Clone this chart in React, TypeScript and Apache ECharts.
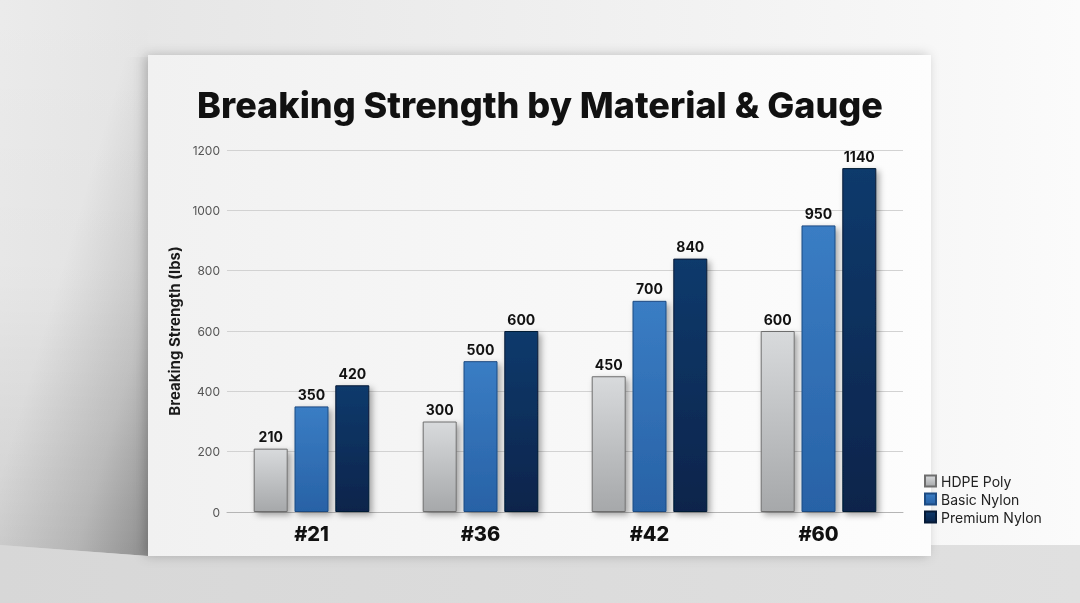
import { useEffect, useRef } from "react";
import * as echarts from "echarts";

const gauges = ["#21", "#36", "#42", "#60"];
const seriesNames = ["HDPE Poly", "Basic Nylon", "Premium Nylon"];
const hdpe = [210, 300, 450, 600];
const basicNylon = [350, 500, 700, 950];
const premiumNylon = [420, 600, 840, 1140];

const FONT = "Inter, 'Open Sans', sans-serif";

const grad = (top: string, bottom: string) =>
  new echarts.graphic.LinearGradient(0, 0, 0, 1, [
    { offset: 0, color: top },
    { offset: 1, color: bottom },
  ]);

export default function App() {
  const ref = useRef<HTMLDivElement>(null);

  useEffect(() => {
    const el = ref.current;
    if (!el) return;
    const chart = echarts.init(el, undefined, { renderer: "svg" });

    const styles = [
      { fill: grad("#d8dadc", "#a6a8aa"), border: "#6e6e6e" },
      { fill: grad("#3a7dc4", "#2862a6"), border: "#1d4b82" },
      { fill: grad("#0f3a6c", "#08244b"), border: "#061a36" },
    ];
    const values = [hdpe, basicNylon, premiumNylon];

    chart.setOption({
      animation: false,
      graphic: [
        // wall
        {
          type: "rect",
          z: -100,
          silent: true,
          shape: { x: 0, y: 0, width: 1080, height: 603 },
          style: {
            fill: new echarts.graphic.LinearGradient(0, 0, 1, 0, [
              { offset: 0, color: "#ebebeb" },
              { offset: 0.13, color: "#e6e6e6" },
              { offset: 0.86, color: "#f7f7f7" },
              { offset: 1, color: "#fbfbfb" },
            ]),
          },
        },
        // left wall gets darker towards the floor
        {
          type: "rect",
          z: -99,
          silent: true,
          shape: { x: 0, y: 0, width: 148, height: 556 },
          style: {
            fill: new echarts.graphic.LinearGradient(0, 0, 0, 1, [
              { offset: 0, color: "rgba(0,0,0,0)" },
              { offset: 0.5, color: "rgba(0,0,0,0.02)" },
              { offset: 1, color: "rgba(0,0,0,0.12)" },
            ]),
          },
        },
        // shadow of the card on the wall
        {
          type: "polygon",
          z: -99,
          silent: true,
          shape: {
            points: [
              [0, 57],
              [148, 57],
              [148, 556],
              [0, 545],
            ],
          },
          style: {
            fill: new echarts.graphic.LinearGradient(0, 0, 1, 1, [
              { offset: 0, color: "rgba(0,0,0,0)" },
              { offset: 0.42, color: "rgba(0,0,0,0)" },
              { offset: 0.75, color: "rgba(0,0,0,0.12)" },
              { offset: 1, color: "rgba(0,0,0,0.3)" },
            ]),
          },
        },
        // floor
        {
          type: "polygon",
          z: -98,
          silent: true,
          shape: {
            points: [
              [0, 545],
              [148, 556],
              [931, 556],
              [931, 545],
              [1080, 545],
              [1080, 603],
              [0, 603],
            ],
          },
          style: {
            fill: new echarts.graphic.LinearGradient(0, 0, 1, 0, [
              { offset: 0, color: "#d7d7d7" },
              { offset: 1, color: "#e0e0e0" },
            ]),
          },
        },
        // card
        {
          type: "rect",
          z: -97,
          silent: true,
          shape: { x: 148, y: 55, width: 783, height: 501 },
          style: {
            fill: new echarts.graphic.LinearGradient(0, 0, 1, 0, [
              { offset: 0, color: "#f1f1f1" },
              { offset: 1, color: "#fdfdfd" },
            ]),
            shadowBlur: 12,
            shadowOffsetX: -3,
            shadowColor: "rgba(0,0,0,0.22)",
          },
        },
      ],
      title: {
        text: "Breaking Strength by Material & Gauge",
        left: "center",
        top: 82,
        textStyle: {
          fontFamily: FONT,
          fontWeight: 800,
          fontSize: 36,
          color: "#111",
        },
      },
      legend: {
        orient: "vertical",
        left: 919,
        top: 469,
        itemWidth: 11,
        itemHeight: 11,
        itemGap: 4,
        icon: "rect",
        data: seriesNames,
        textStyle: { fontFamily: FONT, fontSize: 14, color: "#222" },
      },
      grid: { left: 227, right: 177, top: 150, bottom: 91 },
      xAxis: {
        type: "category",
        data: gauges,
        axisTick: { show: false },
        axisLine: { lineStyle: { color: "#b5b5b5" } },
        axisLabel: {
          margin: 12,
          fontFamily: FONT,
          fontWeight: 800,
          fontSize: 20,
          color: "#111",
        },
      },
      yAxis: {
        type: "value",
        min: 0,
        max: 1200,
        interval: 200,
        name: "Breaking Strength (lbs)",
        nameLocation: "middle",
        nameGap: 31,
        nameTextStyle: { fontFamily: FONT, fontWeight: 700, fontSize: 15, color: "#1a1a1a" },
        axisLabel: {
          fontFamily: FONT,
          fontSize: 12,
          color: "#555",
          margin: 7,
          formatter: (v: number) => String(v),
        },
        splitLine: { lineStyle: { color: "#d2d2d2" } },
      },
      series: seriesNames.map((name, i) => ({
        name,
        type: "bar",
        data: values[i],
        barWidth: 34,
        barGap: "20%",
        itemStyle: {
          color: styles[i].fill,
          borderColor: styles[i].border,
          borderWidth: 1,
          shadowBlur: 6,
          shadowColor: "rgba(0,0,0,0.35)",
          shadowOffsetX: 3,
          shadowOffsetY: 3,
        },
        label: {
          show: true,
          position: "top",
          distance: 5,
          fontFamily: FONT,
          fontWeight: 700,
          fontSize: 14,
          color: "#111",
        },
      })),
    });

    return () => chart.dispose();
  }, []);

  return (
    <div
      ref={ref}
      style={{ position: "fixed", left: 0, top: 0, width: 1080, height: 603 }}
    />
  );
}
